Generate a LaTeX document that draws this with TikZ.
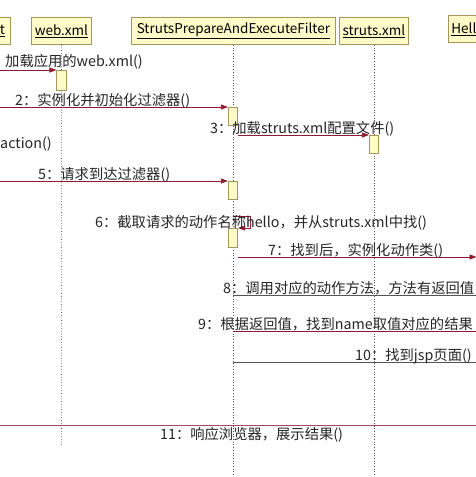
\documentclass[tikz,border=0pt]{standalone}
\usepackage{fontspec}
\setmainfont{Noto Sans CJK SC}
\usetikzlibrary{arrows.meta}
\definecolor{hdrfill}{HTML}{FFFBC8}
\definecolor{hdrdraw}{HTML}{A8955A}
\definecolor{msgred}{HTML}{8E1B2E}
\definecolor{msggray}{HTML}{555555}
\definecolor{lifegray}{HTML}{555555}
\begin{document}
\begin{tikzpicture}[x=1pt,y=-1pt,
  font=\fontsize{13.5}{15}\selectfont,
  hdr/.style={draw=hdrdraw, fill=hdrfill, line width=0.8pt, inner sep=0pt, minimum height=27pt},
  act/.style={draw=hdrdraw, fill=hdrfill, line width=0.7pt, inner sep=0pt, minimum width=9.5pt, anchor=north},
  life/.style={draw=lifegray, line width=0.7pt, dotted},
  msg/.style={draw=msgred, line width=0.7pt, -{Triangle[length=7pt,width=5pt]}},
  msgline/.style={draw=msgred, line width=0.7pt},
  grayline/.style={draw=msggray, line width=0.7pt},
  lbl/.style={anchor=base west, inner sep=0pt, text=black!85, font=\fontsize{14.3}{16}\selectfont}
]
\useasboundingbox (0,0) rectangle (476,477);
\clip (0,0) rectangle (476,477);
\fill[white] (0,0) rectangle (476,477);

% headers
\node[hdr, minimum width=60pt, anchor=north west] (tomcat) at (-50,17) {\hspace*{2pt}\underline{Tomcat}};
\node[hdr, minimum width=60pt, anchor=north west] (web) at (31,17) {\underline{web.xml}};
\node[hdr, minimum width=204pt, anchor=north west] (filter) at (131,17) {\underline{StrutsPrepareAndExecuteFilter}};
\node[hdr, minimum width=69pt, anchor=north west] (struts) at (339,17) {\underline{struts.xml}};
\node[hdr, minimum width=96pt, anchor=north west, text width=90pt, align=left] (hello) at (448,15) {\underline{HelloAction}};

% lifeline end points
\coordinate (webend) at (61.5,447);
\coordinate (filterend) at (233,478);
\coordinate (strutsend) at (374,478);
\draw[life] (web.south) -- (webend);
\draw[life] (filter.south -| filterend) -- (filterend);
\draw[life] (struts.south -| strutsend) -- (strutsend);

% activations
\node[act, minimum height=20pt] (a1) at (61.5,70) {};
\node[act, minimum height=18pt] (f1) at (233,107) {};
\node[act, minimum height=18pt] (s1) at (374,135) {};
\node[act, minimum height=18pt] (f2) at (233,181) {};
\node[act, minimum height=19pt] (f3) at (233,228) {};

% free ends
\coordinate (L1) at (0,70);
\coordinate (L2) at (0,107);
\coordinate (L5) at (0,181);
\coordinate (s6a) at (233,216);
\coordinate (s6b) at (250,216);
\coordinate (s6c) at (250,228);
\coordinate (R7) at (476.5,257);
\coordinate (A8) at (233,295);
\coordinate (R8) at (477,295);
\coordinate (A9) at (233,331);
\coordinate (R9) at (477,331);
\coordinate (A10) at (233,362);
\coordinate (R10) at (477,362);
\coordinate (L11) at (-1,425);
\coordinate (R11) at (477,425);

% messages
\draw[msg] (L1) -- (a1.north west);
\draw[msg] (L2) -- (f1.north west);
\draw[msg] (f1.east |- s1.north) -- (s1.north west);
\draw[msg] (L5) -- (f2.north west);
\draw[msg] (s6a) -- (s6b) -- (s6c) -- (f3.north east);
\draw[msg] (f3.east |- R7) -- (R7);
\draw[grayline] (A8) -- (R8);
\draw[msgline] (A9) -- (R9);
\draw[grayline] (A10) -- (R10);
\draw[msgline, draw=msgred!80] (L11) -- (R11);

% labels
\node[lbl] (t1) at (5,66) {加载应用的web.xml()};
\node[lbl] (t2) at (15,105) {2：实例化并初始化过滤器()};
\node[lbl] (t3) at (210,133) {3：加载struts.xml配置文件()};
\node[lbl] (t4) at (0,148) {action()};
\node[lbl] (t5) at (38,179) {5：请求到达过滤器()};
\node[lbl] (t6) at (95,227) {6：截取请求的动作名称hello，并从struts.xml中找()};
\node[lbl] (t7) at (268,255) {7：找到后，实例化动作类()};
\node[lbl] (t8) at (223,293) {8：调用对应的动作方法，方法有返回值};
\node[lbl] (t9) at (198,329) {9：根据返回值，找到name取值对应的结果};
\node[lbl] (t10) at (355,360) {10：找到jsp页面()};
\node[lbl] (t11) at (160,439) {11：响应浏览器，展示结果()};
\end{tikzpicture}
\end{document}
